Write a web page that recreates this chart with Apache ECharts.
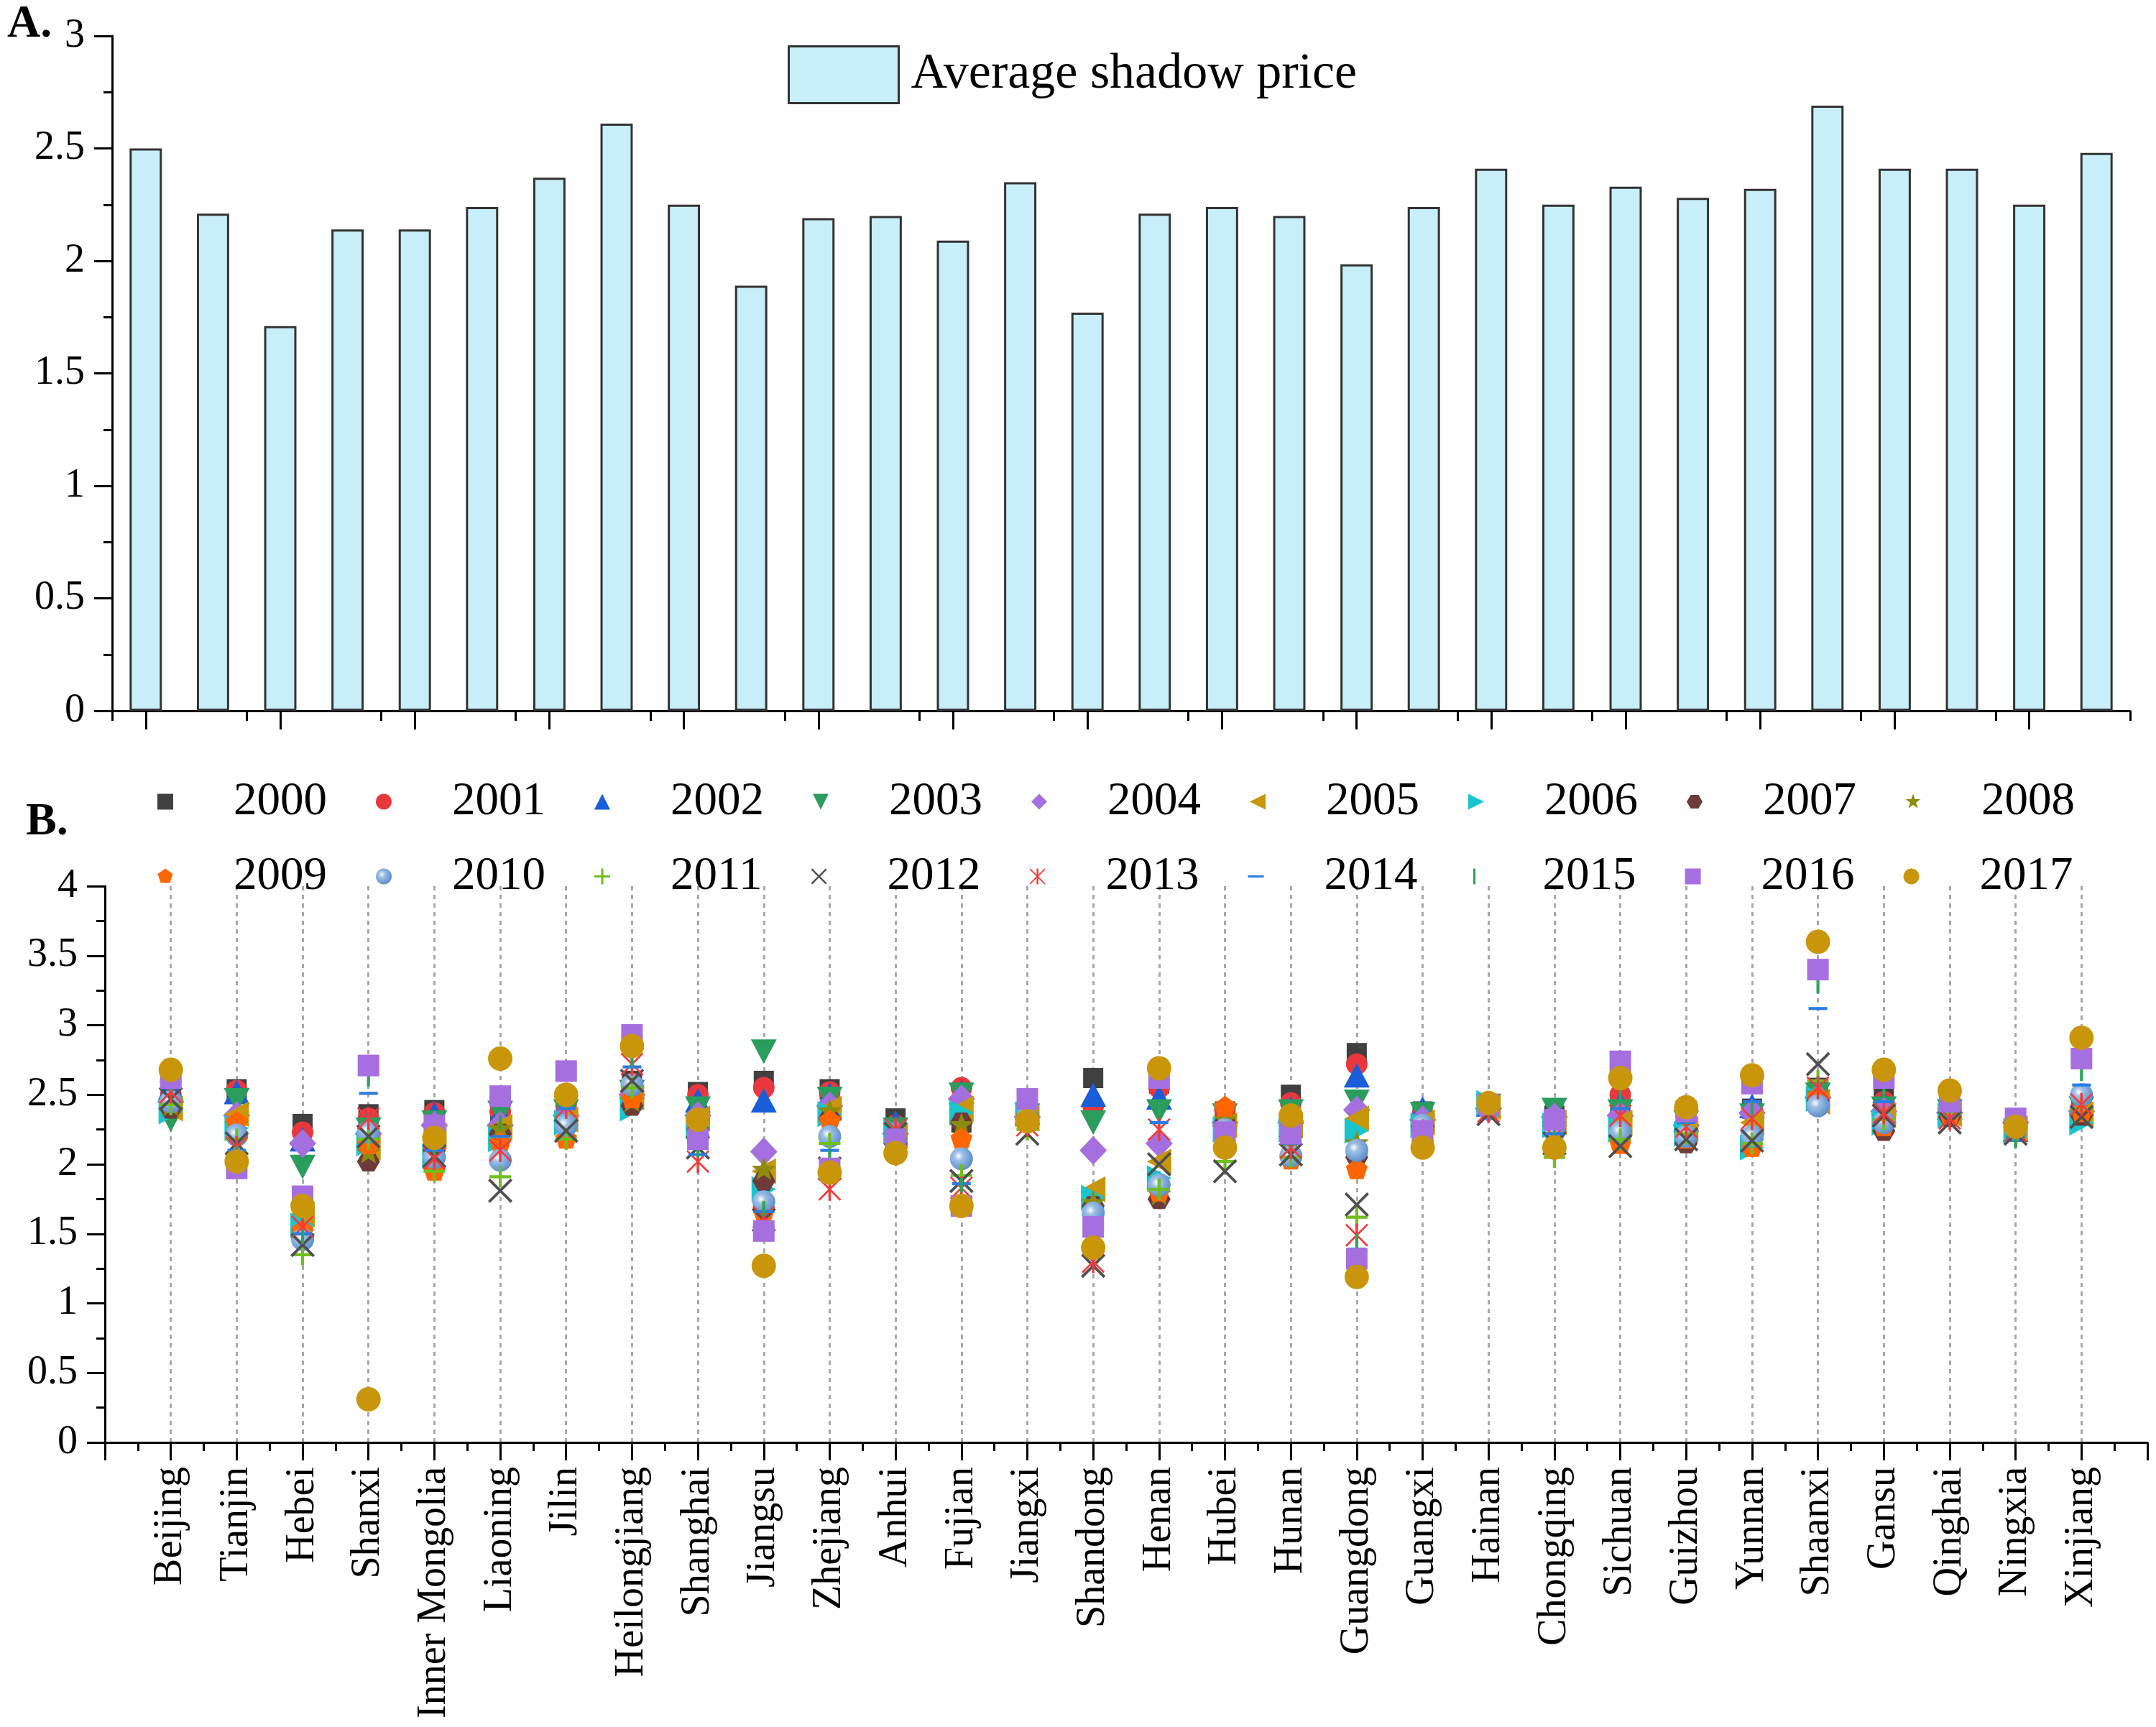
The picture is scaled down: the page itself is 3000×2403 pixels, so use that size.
<!DOCTYPE html>
<html><head><meta charset="utf-8">
<script src="https://cdn.jsdelivr.net/npm/echarts@6/dist/echarts.min.js"></script>
<style>html,body{margin:0;padding:0;background:#fff}#c{width:3000px;height:2403px}</style>
</head><body><div id="c"></div>
<script>
// ---------- data ----------
const provinces = ['Beijing','Tianjin','Hebei','Shanxi','Inner Mongolia','Liaoning','Jilin','Heilongjiang','Shanghai','Jiangsu','Zhejiang','Anhui','Fujian','Jiangxi','Shandong','Henan','Hubei','Hunan','Guangdong','Guangxi','Hainan','Chongqing','Sichuan','Guizhou','Yunnan','Shaanxi','Gansu','Qinghai','Ningxia','Xinjiang'];
const avgShadowPrice = [2.50,2.21,1.71,2.14,2.14,2.24,2.37,2.61,2.25,1.89,2.19,2.20,2.09,2.35,1.77,2.21,2.24,2.20,1.985,2.24,2.41,2.25,2.33,2.28,2.32,2.69,2.41,2.41,2.25,2.48];
const years = ['2000','2001','2002','2003','2004','2005','2006','2007','2008','2009','2010','2011','2012','2013','2014','2015','2016','2017'];
const y2000 = [2.52,2.54,2.29,2.36,2.39,2.35,2.40,2.60,2.52,2.60,2.54,2.33,2.30,2.38,2.62,2.58,2.38,2.50,2.80,2.38,2.42,2.35,2.45,2.35,2.40,2.55,2.47,2.40,2.28,2.40];
const y2001 = [2.50,2.53,2.23,2.33,2.37,2.38,2.42,2.58,2.50,2.55,2.52,2.28,2.55,2.36,2.42,2.55,2.39,2.44,2.72,2.36,2.41,2.32,2.50,2.30,2.38,2.52,2.45,2.42,2.27,2.42];
const y2002 = [2.55,2.52,2.18,2.30,2.36,2.36,2.40,2.56,2.46,2.46,2.50,2.30,2.52,2.37,2.50,2.48,2.36,2.40,2.64,2.40,2.43,2.36,2.43,2.32,2.42,2.56,2.44,2.41,2.25,2.44];
const y2003 = [2.32,2.46,1.98,2.25,2.30,2.37,2.38,2.52,2.40,2.81,2.47,2.25,2.50,2.35,2.30,2.38,2.35,2.38,2.45,2.36,2.42,2.39,2.38,2.30,2.35,2.50,2.40,2.38,2.22,2.40];
const y2004 = [2.45,2.35,2.15,2.22,2.28,2.28,2.35,2.50,2.35,2.09,2.42,2.22,2.47,2.34,2.10,2.15,2.30,2.30,2.39,2.32,2.40,2.34,2.35,2.28,2.37,2.48,2.38,2.37,2.30,2.38];
const y2005 = [2.40,2.36,1.64,2.12,2.20,2.27,2.32,2.48,2.33,1.95,2.40,2.20,2.40,2.33,1.82,2.02,2.28,2.28,2.33,2.30,2.41,2.30,2.30,2.25,2.30,2.45,2.35,2.36,2.26,2.36];
const y2006 = [2.38,2.26,1.56,2.15,2.06,2.18,2.30,2.40,2.27,1.82,2.36,2.24,2.37,2.36,1.76,1.90,2.25,2.25,2.24,2.28,2.44,2.28,2.25,2.22,2.12,2.47,2.30,2.35,2.24,2.30];
const y2007 = [2.40,2.22,1.48,2.02,2.10,2.22,2.28,2.42,2.25,1.88,2.33,2.18,2.30,2.32,1.70,1.75,2.30,2.20,2.05,2.25,2.40,2.25,2.20,2.15,2.18,2.46,2.24,2.34,2.25,2.35];
const y2008 = [2.42,2.28,1.50,2.08,2.12,2.25,2.30,2.45,2.28,1.96,2.38,2.20,2.28,2.34,1.72,1.78,2.32,2.18,2.15,2.26,2.42,2.27,2.22,2.20,2.20,2.50,2.28,2.36,2.27,2.37];
const y2009 = [2.44,2.30,1.52,2.14,1.95,2.15,2.18,2.47,2.22,1.65,2.31,2.15,2.18,2.30,1.62,1.80,2.41,2.03,1.96,2.24,2.41,2.22,2.14,2.18,2.12,2.48,2.27,2.35,2.26,2.37];
const y2010 = [2.45,2.21,1.46,2.23,2.05,2.03,2.28,2.57,2.20,1.73,2.20,2.17,2.04,2.33,1.65,1.85,2.25,2.06,2.10,2.28,2.40,2.24,2.23,2.20,2.20,2.42,2.30,2.40,2.25,2.50];
const y2011 = [2.43,2.18,1.35,2.18,1.95,1.91,2.18,2.55,2.15,1.66,2.15,2.20,1.92,2.25,1.55,1.82,2.02,2.05,1.62,2.22,2.39,2.05,2.18,2.22,2.15,2.60,2.32,2.37,2.20,2.40];
const y2012 = [2.47,2.15,1.42,2.20,2.06,1.81,2.24,2.60,2.12,1.60,1.97,2.22,1.88,2.22,1.27,2.00,1.95,2.07,1.71,2.20,2.36,2.15,2.13,2.18,2.17,2.72,2.35,2.30,2.22,2.34];
const y2013 = [2.52,2.12,1.55,2.33,2.04,2.10,2.41,2.72,2.02,1.62,1.82,2.25,1.83,2.28,1.30,2.25,2.20,2.12,1.49,2.24,2.38,2.20,2.35,2.27,2.33,2.55,2.37,2.33,2.24,2.43];
const y2014 = [2.55,2.10,1.50,2.51,2.10,2.20,2.40,2.70,2.07,1.66,2.10,2.21,1.86,2.35,1.50,2.30,2.22,2.15,1.39,2.26,2.40,2.22,2.40,2.30,2.45,3.12,2.45,2.40,2.20,2.57];
const y2015 = [2.58,2.08,1.48,2.61,2.12,2.30,2.45,2.75,2.10,1.68,2.05,2.19,1.85,2.38,1.52,2.40,2.25,2.18,1.45,2.25,2.41,2.25,2.48,2.33,2.40,3.28,2.53,2.42,2.17,2.65];
const y2016 = [2.62,1.97,1.77,2.71,2.28,2.49,2.67,2.93,2.18,1.52,1.97,2.18,1.70,2.47,1.55,2.62,2.23,2.22,1.32,2.24,2.43,2.32,2.74,2.38,2.58,3.40,2.62,2.45,2.33,2.76];
const y2017 = [2.68,2.02,1.70,0.31,2.19,2.76,2.50,2.85,2.32,1.27,1.94,2.08,1.70,2.31,1.40,2.69,2.12,2.35,1.19,2.12,2.44,2.12,2.62,2.41,2.64,3.60,2.68,2.53,2.27,2.91];
const yearValues = [y2000,y2001,y2002,y2003,y2004,y2005,y2006,y2007,y2008,y2009,y2010,y2011,y2012,y2013,y2014,y2015,y2016,y2017];

// ---------- styles ----------
const FONT = '"Liberation Serif","Times New Roman",serif';
const PAD = 'M0 0M10 10';
const markers = [
  {symbol:'path://M0 0H10V10H0Z', size:28, color:'#404040'},
  {symbol:'circle', size:30, color:'#e8383d'},
  {symbol:'path://M5 0L10 10H0Z', size:[36,34], color:'#1a5dd9'},
  {symbol:'path://M0 0H10L5 10Z', size:[36,34], color:'#2a9d5c'},
  {symbol:'path://M5 0L10 5L5 10L0 5Z', size:[38,40], color:'#a56fdf'},
  {symbol:'path://M0 5L10 0V10Z', size:[34,36], color:'#c8960a'},
  {symbol:'path://M10 5L0 10V0Z', size:[34,36], color:'#18c5cc'},
  {symbol:'path://'+PAD+'M2.5 0.67H7.5L10 5L7.5 9.33H2.5L0 5Z', size:32, color:'#6e3b3b'},
  {symbol:'path://'+PAD+'M5 0L6.18 3.38L9.76 3.45L6.9 5.62L7.94 9.05L5 7L2.06 9.05L3.1 5.62L0.24 3.45L3.82 3.38Z', size:36, color:'#8c8c0a'},
  {symbol:'path://'+PAD+'M5 0L9.76 3.45L7.94 9.05L2.06 9.05L0.24 3.45Z', size:32, color:'#ff6600'},
  {symbol:'circle', size:32, color:{type:'radial',x:0.38,y:0.38,r:0.65,colorStops:[{offset:0,color:'#ffffff'},{offset:0.3,color:'#9dbfe6'},{offset:1,color:'#5b8cc9'}]}},
  {symbol:'path://M4.3 0H5.7V4.3H10V5.7H5.7V10H4.3V5.7H0V4.3H4.3Z', size:30, color:'#6fbf1f'},
  {symbol:'path://M0 0.8L0.8 0L5 4.2L9.2 0L10 0.8L5.8 5L10 9.2L9.2 10L5 5.8L0.8 10L0 9.2L4.2 5Z', size:34, color:'#505050'},
  {symbol:'path://M4.45 0H5.55V10H4.45Z M0 0.6L0.6 0L5 4.4L9.4 0L10 0.6L5.6 5L10 9.4L9.4 10L5 5.6L0.6 10L0 9.4L4.4 5Z', size:32, color:'#f03c3c'},
  {symbol:'path://'+PAD+'M0 4.3H10V5.7H0Z', size:[26,30], color:'#2c7be5'},
  {symbol:'path://'+PAD+'M4.3 0H5.7V10H4.3Z', size:[30,20], color:'#2ea35a'},
  {symbol:'path://M0 0H10V10H0Z', size:30, color:'#a66fdf'},
  {symbol:'circle', size:34, color:'#c9960b'}
];

const axisLine = {show:true, lineStyle:{color:'#000', width:3}};
const labelStyle = {fontFamily:FONT, fontSize:56, color:'#000'};

const chart = echarts.init(document.getElementById('c'), null, {renderer:'canvas', width:3000, height:2403});

const scatterSeries = years.map((yr, j) => ({
  name: yr, type:'scatter', xAxisIndex:2, yAxisIndex:1,
  symbol: markers[j].symbol, symbolSize: markers[j].size,
  itemStyle:{color: markers[j].color, opacity:1},
  emphasis:{disabled:true},
  data: provinces.map((p, i) => [i + 1, yearValues[j][i]])
}));

const legendText = {fontFamily:FONT, fontSize:65, color:'#000', lineHeight:64, padding:[0,0,0,79]};

chart.setOption({
  animation:false,
  backgroundColor:'#fff',
  textStyle:{fontFamily:FONT},
  grid:[
    {left:156, top:50, width:2808, height:939, outerBoundsMode:'none', containLabel:false},
    {left:146, top:1233, width:2842, height:774, outerBoundsMode:'none', containLabel:false}
  ],
  legend:[
    {data:['Average shadow price'], left:1096, top:63, padding:0, itemWidth:153, itemHeight:79, icon:'rect',
     itemStyle:{color:'#c8eff9', borderColor:'#333', borderWidth:3}, selectedMode:false,
     textStyle:{fontFamily:FONT, fontSize:70, color:'#000', padding:[0,0,0,12]}},
    {data:years.slice(0,9), left:219, top:1083, padding:0, orient:'horizontal', itemWidth:22, itemHeight:22, itemGap:68, selectedMode:false, textStyle:legendText},
    {data:years.slice(9), left:219, top:1187, padding:0, orient:'horizontal', itemWidth:22, itemHeight:22, itemGap:68, selectedMode:false, textStyle:legendText}
  ],
  graphic:[
    {type:'text', left:10, top:2, style:{text:'A.', font:'bold 64px '+FONT, fill:'#000'}},
    {type:'text', left:36, top:1112, style:{text:'B.', font:'bold 64px '+FONT, fill:'#000'}}
  ],
  xAxis:[
    {type:'category', gridIndex:0, position:'bottom', data:provinces, boundaryGap:true, axisLine:axisLine,
     axisTick:{show:true, alignWithLabel:true, length:26, lineStyle:{color:'#000', width:3}},
     axisLabel:{show:false}, splitLine:{show:false}},
    {type:'category', gridIndex:0, position:'bottom', data:provinces, boundaryGap:true, axisLine:{show:false},
     axisTick:{show:true, length:14, lineStyle:{color:'#000', width:3}},
     axisLabel:{show:false}, splitLine:{show:false}},
    {type:'value', gridIndex:1, position:'bottom', min:0, max:provinces.length + 1, interval:1, axisLine:axisLine,
     axisTick:{show:true, length:25, lineStyle:{color:'#000', width:3}},
     minorTick:{show:true, splitNumber:2, length:12, lineStyle:{color:'#000', width:3}},
     axisLabel:Object.assign({rotate:90, margin:34, formatter:v => provinces[v - 1] || ''}, labelStyle),
     splitLine:{show:false}, minorSplitLine:{show:false}},
    {type:'category', gridIndex:1, position:'bottom', data:[''].concat(provinces, ['']), boundaryGap:false,
     axisLine:{show:false}, axisTick:{show:false}, axisLabel:{show:false},
     splitLine:{show:true, interval:(idx) => idx > 0 && idx <= provinces.length, lineStyle:{color:'#a8a8a8', width:3, type:[6,6]}}}
  ],
  yAxis:[
    {type:'value', gridIndex:0, min:0, max:3, interval:0.5, axisLine:axisLine,
     axisTick:{show:true, length:25, lineStyle:{color:'#000', width:3}},
     minorTick:{show:true, splitNumber:2, length:12, lineStyle:{color:'#000', width:3}},
     axisLabel:Object.assign({margin:38}, labelStyle), splitLine:{show:false}},
    {type:'value', gridIndex:1, min:0, max:4, interval:0.5, axisLine:axisLine,
     axisTick:{show:true, length:25, lineStyle:{color:'#000', width:3}},
     minorTick:{show:true, splitNumber:2, length:12, lineStyle:{color:'#000', width:3}},
     axisLabel:Object.assign({margin:38}, labelStyle), splitLine:{show:false}}
  ],
  series:[
    {name:'Average shadow price', type:'bar', xAxisIndex:0, yAxisIndex:0, data:avgShadowPrice, barWidth:'48%',
     itemStyle:{color:'#c8eff9', borderColor:'#333', borderWidth:3}, emphasis:{disabled:true}}
  ].concat(scatterSeries)
});
</script>
</body></html>
